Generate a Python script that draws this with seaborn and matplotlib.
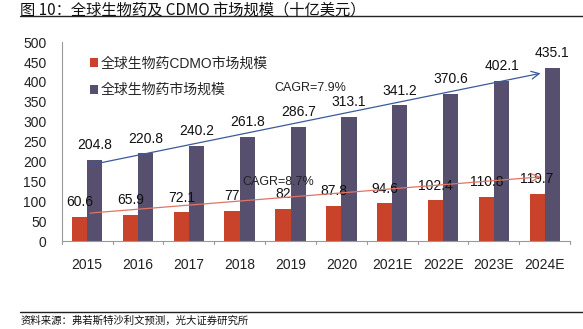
import matplotlib
matplotlib.use("Agg")
import matplotlib.pyplot as plt
import seaborn as sns
import pandas as pd

years = ["2015", "2016", "2017", "2018", "2019", "2020", "2021E", "2022E", "2023E", "2024E"]
cdmo = [60.6, 65.9, 72.1, 77, 82, 87.8, 94.6, 102.4, 110.8, 119.7]
biologics = [204.8, 220.8, 240.2, 261.8, 286.7, 313.1, 341.2, 370.6, 402.1, 435.1]
cdmo_labels = ["60.6", "65.9", "72.1", "77", "82", "87.8", "94.6", "102.4", "110.8", "119.7"]
bio_labels = ["204.8", "220.8", "240.2", "261.8", "286.7", "313.1", "341.2", "370.6", "402.1", "435.1"]
series = ["全球生物药CDMO市场规模", "全球生物药市场规模"]
colors = ["#C8432A", "#564F6E"]
cagr_texts = ["CAGR=7.9%", "CAGR=8.7%"]
yticks = [0, 50, 100, 150, 200, 250, 300, 350, 400, 450, 500]

sns.set_theme(style="white")
plt.rcParams['font.family'] = ['Liberation Sans', 'Noto Sans CJK SC', 'DejaVu Sans']

df = pd.DataFrame({
    "year": years * 2,
    "value": cdmo + biologics,
    "series": [series[0]] * len(years) + [series[1]] * len(years),
})

fig = plt.figure(figsize=(5.83, 3.29), dpi=100)
ax = fig.add_axes([0.106, 0.267, 0.872, 0.605])
sns.barplot(data=df, x="year", y="value", hue="series", palette=colors,
            width=0.6, ax=ax, saturation=1, edgecolor="none")

ax.set_ylim(0, 500)
ax.set_xlim(-0.5, len(years) - 0.5)
ax.set_yticks(yticks)
ax.set_yticklabels([str(t) for t in yticks], fontsize=10, color="#222222")
ax.set_xlabel("")
ax.set_ylabel("")
ax.tick_params(axis="x", labelsize=10, colors="#222222", length=0, pad=12)
ax.tick_params(axis="y", direction="in", length=4, color="#999999", pad=11)
for i in range(len(years) + 1):
    ax.plot([i - 0.5, i - 0.5], [0, -8], color="#999999", lw=0.8, clip_on=False)

for s in ["top", "right"]:
    ax.spines[s].set_visible(False)
for s in ["left", "bottom"]:
    ax.spines[s].set_color("#999999")
    ax.spines[s].set_linewidth(0.8)

# data labels
for i in range(len(years)):
    ax.text(i - 0.15, cdmo[i] + 37, cdmo_labels[i], ha="center", va="center", fontsize=10, color="#111111")
    ax.text(i + 0.15, biologics[i] + 37, bio_labels[i], ha="center", va="center", fontsize=10, color="#111111")

# CAGR arrows
ax.annotate("", xy=(8.97, 423), xytext=(0, 190),
            arrowprops=dict(arrowstyle="->", color="#3B5A9A", lw=0.9, mutation_scale=14))
ax.annotate("", xy=(8.97, 162), xytext=(0, 70),
            arrowprops=dict(arrowstyle="->", color="#E07565", lw=0.9, mutation_scale=14))
ax.text(4.38, 385, cagr_texts[0], ha="center", va="center", fontsize=9, color="#222222")
ax.text(3.75, 148, cagr_texts[1], ha="center", va="center", fontsize=9, color="#222222")

leg = ax.legend(loc="upper left", bbox_to_anchor=(0.03, 0.99), frameon=False,
                fontsize=10, handlelength=0.6, handleheight=0.6, handletextpad=0.2,
                labelspacing=0.9)

# title and lines
fig.text(0.035, 0.995, "图 10：全球生物药及 CDMO 市场规模（十亿美元）", ha="left", va="top",
         fontsize=11, fontweight="medium", family=['Noto Sans CJK SC', 'DejaVu Sans'], color="#111111")
fig.add_artist(plt.Line2D([0.035, 1.0], [0.95, 0.95], color="#222222", lw=1.0))
fig.add_artist(plt.Line2D([0.035, 1.0], [0.052, 0.052], color="#222222", lw=1.0))
fig.text(0.035, 0.042, "资料来源：弗若斯特沙利文预测，光大证券研究所", ha="left", va="top",
         fontsize=7.5, family=['Noto Sans CJK SC', 'DejaVu Sans'], color="#111111")

fig.savefig("out.png", dpi=100)
